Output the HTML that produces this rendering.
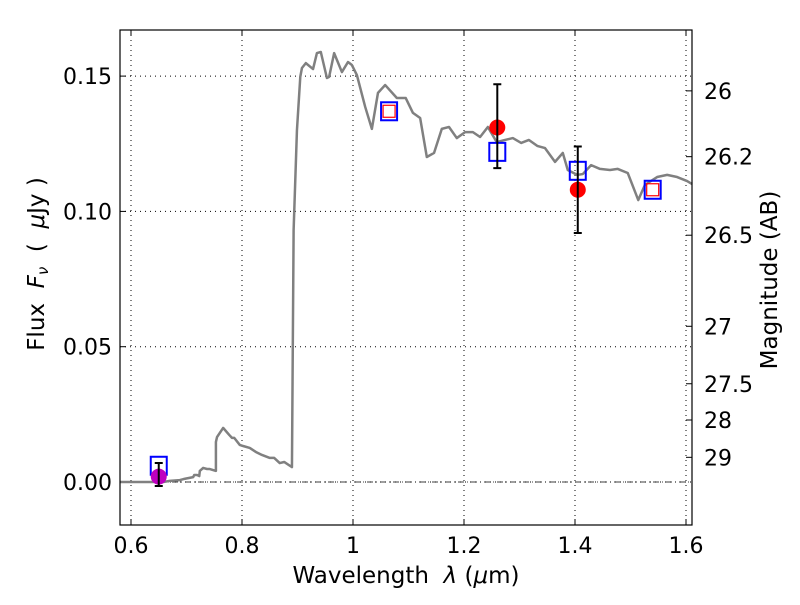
<!DOCTYPE html>
<html><head><meta charset="utf-8"><style>
body{margin:0;background:#fff;}
svg{font-family:"DejaVu Sans","Liberation Sans",sans-serif;}
</style></head><body>
<svg id="c" width="800" height="600" xmlns="http://www.w3.org/2000/svg"></svg>
<script>
const specLam=[0.580,0.658,0.670,0.688,0.695,0.712,0.714,0.719,0.723,0.724,0.730,0.737,0.742,0.753,0.753,0.755,0.766,0.777,0.782,0.786,0.796,0.802,0.814,0.825,0.836,0.850,0.858,0.868,0.876,0.890,0.893,0.899,0.905,0.908,0.915,0.928,0.935,0.942,0.953,0.957,0.966,0.980,0.991,0.998,1.007,1.022,1.034,1.045,1.058,1.079,1.095,1.108,1.121,1.133,1.146,1.160,1.173,1.187,1.202,1.216,1.229,1.243,1.259,1.274,1.288,1.303,1.317,1.332,1.346,1.364,1.378,1.387,1.404,1.414,1.429,1.445,1.463,1.477,1.495,1.514,1.526,1.548,1.566,1.584,1.602,1.611];
const specFlux=[0,0,0.0004,0.0007,0.0011,0.0018,0.0026,0.0026,0.0022,0.0041,0.0052,0.0048,0.0048,0.0041,0.0148,0.0166,0.020,0.0174,0.0163,0.0163,0.0137,0.0133,0.0126,0.0111,0.010,0.0089,0.0089,0.007,0.0074,0.0055,0.093,0.130,0.1497,0.153,0.1548,0.1526,0.1585,0.1589,0.1493,0.1497,0.1585,0.1515,0.1552,0.1541,0.1504,0.1386,0.1305,0.1438,0.1467,0.1419,0.1419,0.1364,0.1345,0.1201,0.1216,0.1305,0.1312,0.1271,0.1293,0.1293,0.1275,0.1312,0.1256,0.1264,0.1271,0.1253,0.1264,0.1242,0.1234,0.1183,0.1216,0.1153,0.1135,0.1138,0.1171,0.1157,0.1153,0.1157,0.1142,0.1042,0.1098,0.1127,0.1135,0.1127,0.1112,0.1101];
const obsLam=[1.26,1.405];
const obsFlux=[0.131,0.108];
const obsLo=[0.116,0.092];
const obsHi=[0.147,0.124];
const bLam=[0.65];
const bFlux=[0.002];
const bLo=[-0.0015];
const bHi=[0.007];
const modLam=[0.65,1.065,1.26,1.405,1.54];
const modFlux=[0.006,0.137,0.122,0.115,0.108];
const redLam=[1.065,1.54];
const redFlux=[0.137,0.108];
const xTicks=[0.6,0.8,1.0,1.2,1.4,1.6];
const xTickLabels=["0.6","0.8","1","1.2","1.4","1.6"];
const yTicks=[0,0.05,0.10,0.15];
const yTickLabels=["0.00","0.05","0.10","0.15"];
const magTicks=[26,26.2,26.5,27,27.5,28,29];
const magTickLabels=["26","26.2","26.5","27","27.5","28","29"];

const L=120,R=692,T=30,B=525;
const X=v=>131+(v-0.6)*555;
const Y=v=>482-v*2706;
const M=m=>Y(Math.pow(10,(23.9-m)/2.5));
const svg=document.getElementById('c');
const NS="http://www.w3.org/2000/svg";
function mk(t,a,p){const e=document.createElementNS(NS,t);for(const k in a)e.setAttribute(k,a[k]);(p||svg).appendChild(e);return e;}

xTicks.forEach((v,i)=>{
  const g=mk('line',{x1:X(v),x2:X(v),y1:T,y2:B,stroke:'#000','stroke-width':1,'stroke-dasharray':'1,4'});
  
  
  const t1=mk('line',{x1:X(v),x2:X(v),y1:B,y2:B-6,stroke:'#000'});
  
  
  mk('line',{x1:X(v),x2:X(v),y1:T,y2:T+6,stroke:'#000'});
  const tx=mk('text',{x:X(v),y:B+28,'font-size':22,'text-anchor':'middle'});
  tx.textContent=xTickLabels[i];
  
  
});
yTicks.forEach((v,i)=>{
  const g=mk('line',{x1:L,x2:R,y1:Y(v),y2:Y(v),stroke:'#000','stroke-width':1,'stroke-dasharray':'1,4'});
  
  
  const t1=mk('line',{x1:L,x2:L+6,y1:Y(v),y2:Y(v),stroke:'#000'});
  
  
  const tx=mk('text',{x:L-8,y:Y(v)+8,'font-size':22,'text-anchor':'end'});
  tx.textContent=yTickLabels[i];
  
  
});
magTicks.forEach((m,i)=>{
  const t1=mk('line',{x1:R,x2:R-6,y1:M(m),y2:M(m),stroke:'#000'});
  
  
  const tx=mk('text',{x:R+12,y:M(m)+8,'font-size':22});
  tx.textContent=magTickLabels[i];
  
  
});
const z=mk('line',{x1:L,x2:R,y1:Y(0),y2:Y(0),stroke:'#000','stroke-width':0.8,'stroke-dasharray':'6,3,1,3'});


const sp=mk('polyline',{points:specLam.map((l,i)=>X(l)+','+Y(specFlux[i])).join(' '),fill:'none',stroke:'#808080','stroke-width':2.5,'stroke-linejoin':'round'});


modLam.forEach((l,i)=>{
  const s=mk('rect',{x:X(l)-8,y:Y(modFlux[i])-9,width:16,height:18,fill:'none',stroke:'#0000ff','stroke-width':2});
  
  
});
redLam.forEach((l,i)=>{
  const s=mk('rect',{x:X(l)-6,y:Y(redFlux[i])-6,width:12,height:12,fill:'none',stroke:'#ff0000','stroke-width':1.2});
  
  
});
function pts(lam,fl,lo,hi,col,name){
  lam.forEach((l,i)=>{
    const c=mk('circle',{cx:X(l),cy:Y(fl[i]),r:8,fill:col});
    
    
    const e=mk('path',{d:`M${X(l)},${Y(lo[i])}V${Y(hi[i])}M${X(l)-4},${Y(lo[i])}h8M${X(l)-4},${Y(hi[i])}h8`,stroke:'#000','stroke-width':2,fill:'none'});
    
    
  });
}
pts(obsLam,obsFlux,obsLo,obsHi,'#ff0000','observed-point');
pts(bLam,bFlux,bLo,bHi,'#bf00bf','optical-point');
const f=mk('rect',{x:L,y:T,width:R-L,height:B-T,fill:'none',stroke:'#000','stroke-width':1.2});


</script>
<svg width="800" height="600" style="position:absolute;left:0;top:0" xmlns="http://www.w3.org/2000/svg" font-family="DejaVu Sans, Liberation Sans, sans-serif">
<text x="406" y="583" font-size="23" text-anchor="middle" xml:space="preserve">Wavelength  <tspan font-style="italic">λ</tspan> (<tspan font-style="italic">μ</tspan>m)</text>
<text transform="translate(44,264) rotate(-90)" font-size="23" text-anchor="middle" xml:space="preserve">Flux  <tspan font-style="italic">F<tspan font-size="15" dy="4">ν</tspan></tspan><tspan dy="-4">  (  </tspan><tspan font-style="italic">μ</tspan>Jy )</text>
<text transform="translate(777,280) rotate(-90)" font-size="23" text-anchor="middle">Magnitude (AB)</text>
</svg>
</body></html>
